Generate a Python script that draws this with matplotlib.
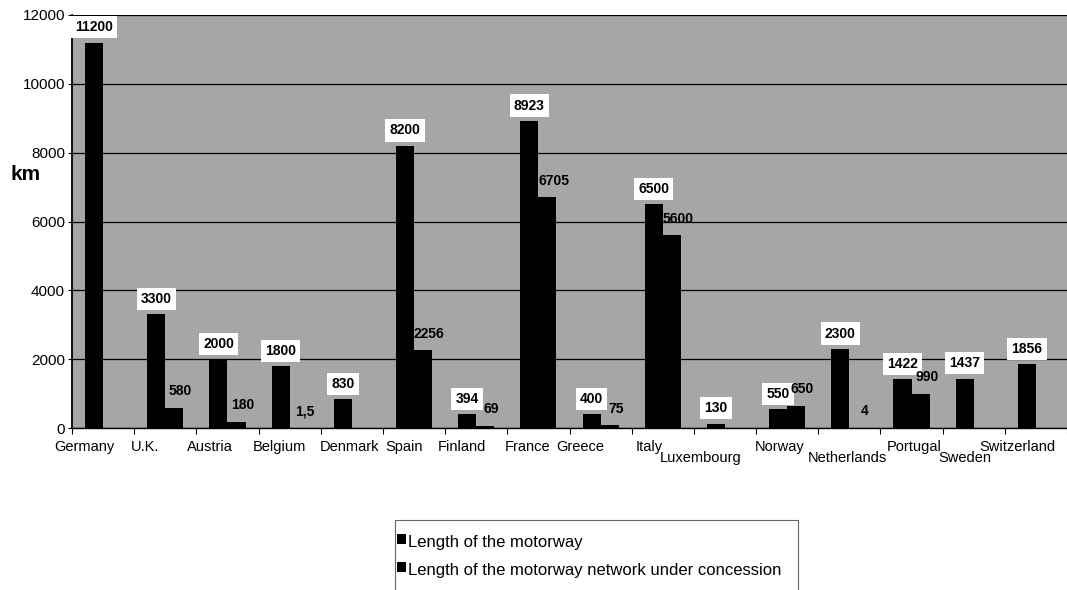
import numpy as np
import matplotlib.pyplot as plt
from matplotlib.patches import Rectangle
import matplotlib.transforms as mtransforms

plt.rcParams['font.family'] = ['Liberation Sans', 'DejaVu Sans']

# Data
countries = ['Germany', 'U.K.', 'Austria', 'Belgium', 'Denmark', 'Spain', 'Finland',
             'France', 'Greece', 'Italy', 'Luxembourg', 'Norway', 'Netherlands',
             'Portugal', 'Sweden', 'Switzerland']
motorway = [11200, 3300, 2000, 1800, 830, 8200, 394, 8923, 400, 6500, 130, 550,
            2300, 1422, 1437, 1856]
concession = [None, 580, 180, 1.5, None, 2256, 69, 6705, 75, 5600, None, 650,
              4, 990, None, None]
series_names = ['Length of the motorway',
                'Length of the motorway network under concession']

# label placement (pixels) - the category names sit a bit off centre in the original
lower_row = ['Luxembourg', 'Netherlands', 'Sweden']
label_shift = [-19, -20, -18, -10, -2, -10, -14, -11, -20, -14, -24, -8, -2, 3, -9, -18]

fig = plt.figure(figsize=(10.67, 5.90), dpi=100)
ax = fig.add_axes([72 / 1067, 1 - 428 / 590, 1 - 72 / 1067, 413 / 590])
ax.set_facecolor('#a6a6a6')

x = np.arange(len(countries))
w = 0.29
conc = np.array([np.nan if v is None else v for v in concession], dtype=float)
ax.bar(x - w / 2, motorway, w, color='black', zorder=3)
ax.bar(x + w / 2, np.nan_to_num(conc), w, color='black', zorder=3)

# value labels
for xi, v in zip(x, motorway):
    ax.annotate(f'{v}', (xi - w / 2, v), xytext=(0, 6), textcoords='offset points',
                ha='center', va='bottom', fontsize=10, fontweight='bold', zorder=5,
                bbox=dict(boxstyle='square,pad=0.3', fc='white', ec='none'))
for xi, v in zip(x, conc):
    if np.isnan(v):
        continue
    txt = '1,5' if v == 1.5 else f'{int(v)}'
    ax.annotate(txt, (xi + w / 2 + 0.1, v), xytext=(0, 7), textcoords='offset points',
                ha='center', va='bottom', fontsize=10, fontweight='bold', zorder=5)

ax.set_xlim(-0.5, len(countries) - 0.5)
ax.set_ylim(0, 12000)
ax.set_yticks(range(0, 12001, 2000))
ax.yaxis.grid(True, color='black', linewidth=0.9, zorder=1)
ax.tick_params(axis='y', labelsize=11, length=3, width=0.8, pad=2)
ax.set_xticks(np.arange(-0.5, len(countries) - 0.4, 1))
ax.set_xticklabels([])
ax.tick_params(axis='x', length=4, width=0.8)
for s in ['top', 'right']:
    ax.spines[s].set_visible(False)
ax.spines['left'].set_linewidth(1.3)
ax.spines['bottom'].set_linewidth(1.0)

# staggered category labels
for xi, name, dx in zip(x, countries, label_shift):
    tr = mtransforms.offset_copy(ax.get_xaxis_transform(), fig=fig, x=dx, y=0, units='dots')
    dy = -0.055 if name in lower_row else -0.029
    ax.text(xi, dy, name, transform=tr, ha='center', va='top', fontsize=10.5)

fig.text(10 / 1067, 1 - 175 / 590, 'km', fontsize=15, fontweight='bold', va='center')

# legend (box runs off the bottom edge like the original)
fig.patches.append(Rectangle((395 / 1067, -0.05), (798 - 395) / 1067, (590 - 520) / 590 + 0.05,
                             transform=fig.transFigure, fill=False, ec='#666666', lw=0.8))
for i, name in enumerate(series_names):
    yc = 542 + i * 28
    fig.patches.append(Rectangle((397 / 1067, 1 - (yc + 2) / 590), 9 / 1067, 10 / 590,
                                 transform=fig.transFigure, fc='black', ec='none'))
    fig.text(408 / 1067, 1 - yc / 590, name, fontsize=12, va='center')

fig.savefig('out.png', dpi=100)
